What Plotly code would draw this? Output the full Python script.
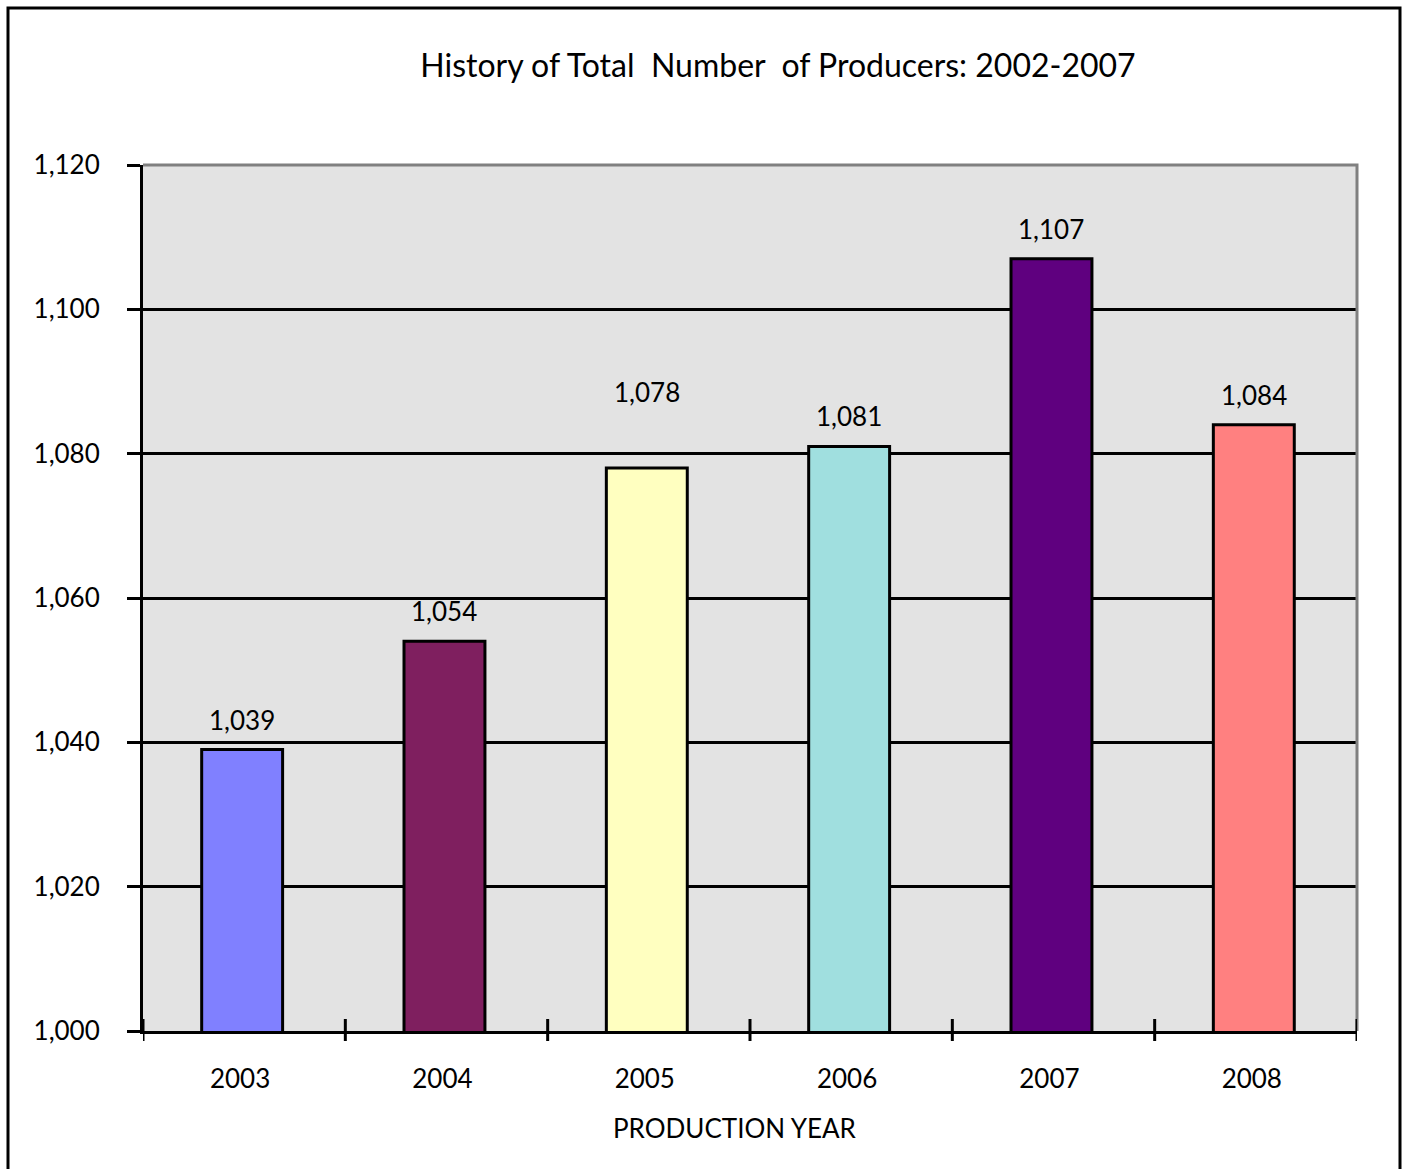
import plotly.graph_objects as go

# Producer counts by production year
years = ["2003", "2004", "2005", "2006", "2007", "2008"]
producers = [1039, 1054, 1078, 1081, 1107, 1084]
bar_colors = ["#8080FF", "#7F1F5F", "#FFFFC0", "#A0DFDF", "#5F007F", "#FF8080"]
y_ticks = [1000, 1020, 1040, 1060, 1080, 1100, 1120]

title_text = "History of Total\u00a0 Number\u00a0 of Producers: 2002-2007"
x_title = "PRODUCTION YEAR"

FONT = "Lato, 'Open Sans', sans-serif"
W, H = 1405, 1169
ML, MR, MT, MB = 143, 48, 165, 138
PW, PH = W - ML - MR, H - MT - MB

pos = list(range(len(years)))

fig = go.Figure()
fig.add_trace(go.Bar(
    x=pos,
    y=producers,
    marker=dict(color=bar_colors, line=dict(color="black", width=3)),
    width=0.4,
    offset=-0.21,
    customdata=years,
    hovertemplate="%{customdata}: %{y:,}<extra></extra>",
))

# value labels above each bar (the 2005 label sits higher)
label_shift = {"2005": 58}
annotations = []
for p, yr, v in zip(pos, years, producers):
    annotations.append(dict(
        x=p - 0.01, y=v, xref="x", yref="y", text=f"{v:,}", showarrow=False,
        yanchor="bottom", yshift=label_shift.get(yr, 12),
        font=dict(family=FONT, size=26, color="black"),
    ))

# axis title
annotations.append(dict(
    x=(735 - ML) / PW, y=(MT + PH - 1128) / PH, xref="paper", yref="paper",
    text=x_title, showarrow=False, yanchor="middle", xanchor="center",
    font=dict(family=FONT, size=26, color="black"),
))

shapes = []
# outer chart frame
shapes.append(dict(
    type="rect", xref="paper", yref="paper",
    x0=(8 - ML) / PW, x1=(1400 - ML) / PW,
    y0=(MT + PH - 1175) / PH, y1=(MT + PH - 8) / PH,
    line=dict(color="black", width=3), fillcolor="rgba(0,0,0,0)", layer="above",
))
# grey plot-area border on top and right
shapes.append(dict(
    type="path", xref="paper", yref="paper",
    path="M 0,1 L 1,1 L 1,0",
    line=dict(color="#808080", width=3), layer="above",
))
# cross ticks between the year categories
for i in range(len(years) + 1):
    shapes.append(dict(
        type="line", xref="x", yref="paper",
        x0=i - 0.5, x1=i - 0.5, y0=-10 / PH, y1=12 / PH,
        line=dict(color="black", width=3), layer="above",
    ))

fig.update_layout(
    width=W, height=H,
    margin=dict(l=ML, r=MR, t=MT, b=MB),
    paper_bgcolor="white",
    plot_bgcolor="#E3E3E3",
    showlegend=False,
    title=dict(
        text=title_text, x=778 / W, y=1 - 66 / H, xanchor="center", yanchor="middle",
        font=dict(family=FONT, size=32, color="black"),
    ),
    xaxis=dict(
        range=[-0.5, len(years) - 0.5],
        tickvals=[p - 0.02 for p in pos], ticktext=years,
        showline=True, linecolor="black", linewidth=3,
        ticks="",
        showgrid=False, zeroline=False,
        tickfont=dict(family=FONT, size=26, color="black"),
        ticklabelstandoff=23,
    ),
    yaxis=dict(
        range=[1000, 1120],
        tickvals=y_ticks,
        tickformat=",",
        showline=True, linecolor="black", linewidth=3,
        ticks="outside", ticklen=13, tickwidth=3, tickcolor="black",
        showgrid=True, gridcolor="black", gridwidth=2.5,
        zeroline=False,
        tickfont=dict(family=FONT, size=26, color="black"),
        ticklabelstandoff=22,
    ),
    annotations=annotations,
    shapes=shapes,
)

fig.write_html("out.html")
